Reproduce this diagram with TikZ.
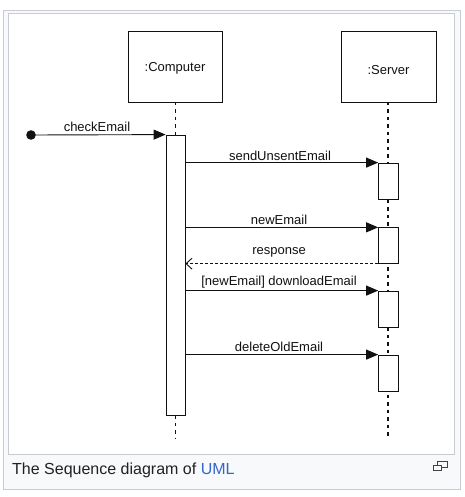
\documentclass[tikz,border=0pt]{standalone}
\usepackage{fontspec}
\setmainfont{Liberation Sans}
\usetikzlibrary{arrows.meta}
\definecolor{frameborder}{HTML}{C8CCD1}
\definecolor{framebg}{HTML}{F8F9FA}
\definecolor{innerborder}{HTML}{C8CCD1}
\definecolor{captxt}{HTML}{202122}
\definecolor{linkblue}{HTML}{3366CC}
\definecolor{ink}{HTML}{111111}
\begin{document}
\begin{tikzpicture}[x=1pt,y=-1pt,
  objbox/.style={draw=ink,line width=0.9pt,fill=white},
  actbox/.style={draw=ink,line width=0.8pt,fill=white},
  lifeline/.style={draw=ink,line width=1.3pt,dash pattern=on 3.5pt off 4pt},
  msg/.style={draw=ink,line width=0.9pt,-{Triangle[length=12pt,width=10pt]}},
  reply/.style={draw=ink,line width=0.9pt,dash pattern=on 3pt off 2pt,-{Straight Barb[length=6pt,width=11pt,line width=0.9pt]}},
  lbl/.style={font=\fontsize{13}{15}\selectfont,text=ink,inner sep=0pt},
  captionstyle/.style={font=\fontsize{16}{19}\selectfont,inner sep=0pt,anchor=base west}]
\useasboundingbox (0,0) rectangle (464,497);
\fill[white] (0,0) rectangle (464,497);
% outer thumbnail frame
\draw[frameborder,fill=framebg,line width=0.8pt] (3.5,10) rectangle (460.5,489);
% inner image
\draw[innerborder,fill=white,line width=0.8pt] (8,13) rectangle (454,454);

% objects
\node[objbox,minimum width=94pt,minimum height=71pt] (comp) at (175,66.5) {};
\node[lbl] (compl) at (175,68) {:Computer};
\node[objbox,minimum width=95pt,minimum height=71pt] (serv) at (388.5,66.5) {};
\node[lbl] (servl) at (388.5,70) {:Server};

% lifelines
\coordinate (cl1) at (175.5,102);
\coordinate (cl2) at (175.5,135);
\coordinate (cl3) at (175.5,415);
\coordinate (cl4) at (175.5,438);
\coordinate (sl1) at (388,102);
\coordinate (sl2) at (388,438);
\draw[lifeline] (cl1) -- (cl2);
\draw[lifeline] (cl3) -- (cl4);
\draw[lifeline] (sl1) -- (sl2);

% activation boxes
\node[actbox,minimum width=19pt,minimum height=280pt,inner sep=0pt] (ca) at (175.5,275) {};
\node[actbox,minimum width=19.5pt,minimum height=36pt,inner sep=0pt] (s1) at (388.3,181) {};
\node[actbox,minimum width=19.5pt,minimum height=35.5pt,inner sep=0pt] (s2) at (388.3,245.5) {};
\node[actbox,minimum width=19.5pt,minimum height=36pt,inner sep=0pt] (s3) at (388.3,309) {};
\node[actbox,minimum width=19.5pt,minimum height=36pt,inner sep=0pt] (s4) at (388.3,373) {};

% start dot
\coordinate (start) at (31,135);
\fill[ink] (start) circle (4.8pt);

% messages
\draw[msg] (start) -- (ca.north west);
\node[lbl] (l0) at (97,127) {checkEmail};

\draw[msg] (ca.east |- s1.north) -- (s1.north west);
\node[lbl] (l1) at (280,155.5) {sendUnsentEmail};

\draw[msg] (ca.east |- s2.north) -- (s2.north west);
\node[lbl] (l2) at (279,219.5) {newEmail};

\draw[reply] (s2.south west) -- (ca.east |- s2.south);
\node[lbl] (l3) at (279,252) {response};

\draw[msg] (ca.east |- s3.north) -- (s3.north west);
\node[lbl] (l4) at (279,282) {[newEmail] downloadEmail};

\draw[msg] (ca.east |- s4.north) -- (s4.north west);
\node[lbl] (l5) at (279,347) {deleteOldEmail};

% caption
\node[captionstyle,text=captxt] (captext) at (12,474.5) {The Sequence diagram of \textcolor{linkblue}{UML}};
% magnify icon
\draw[captxt!85,line width=0.9pt] (437.5,461) rectangle (447,467);
\fill[framebg] (433,464.5) rectangle (441.5,470);
\draw[captxt!85,line width=0.9pt] (433.5,465) rectangle (441,470);
\end{tikzpicture}
\end{document}
